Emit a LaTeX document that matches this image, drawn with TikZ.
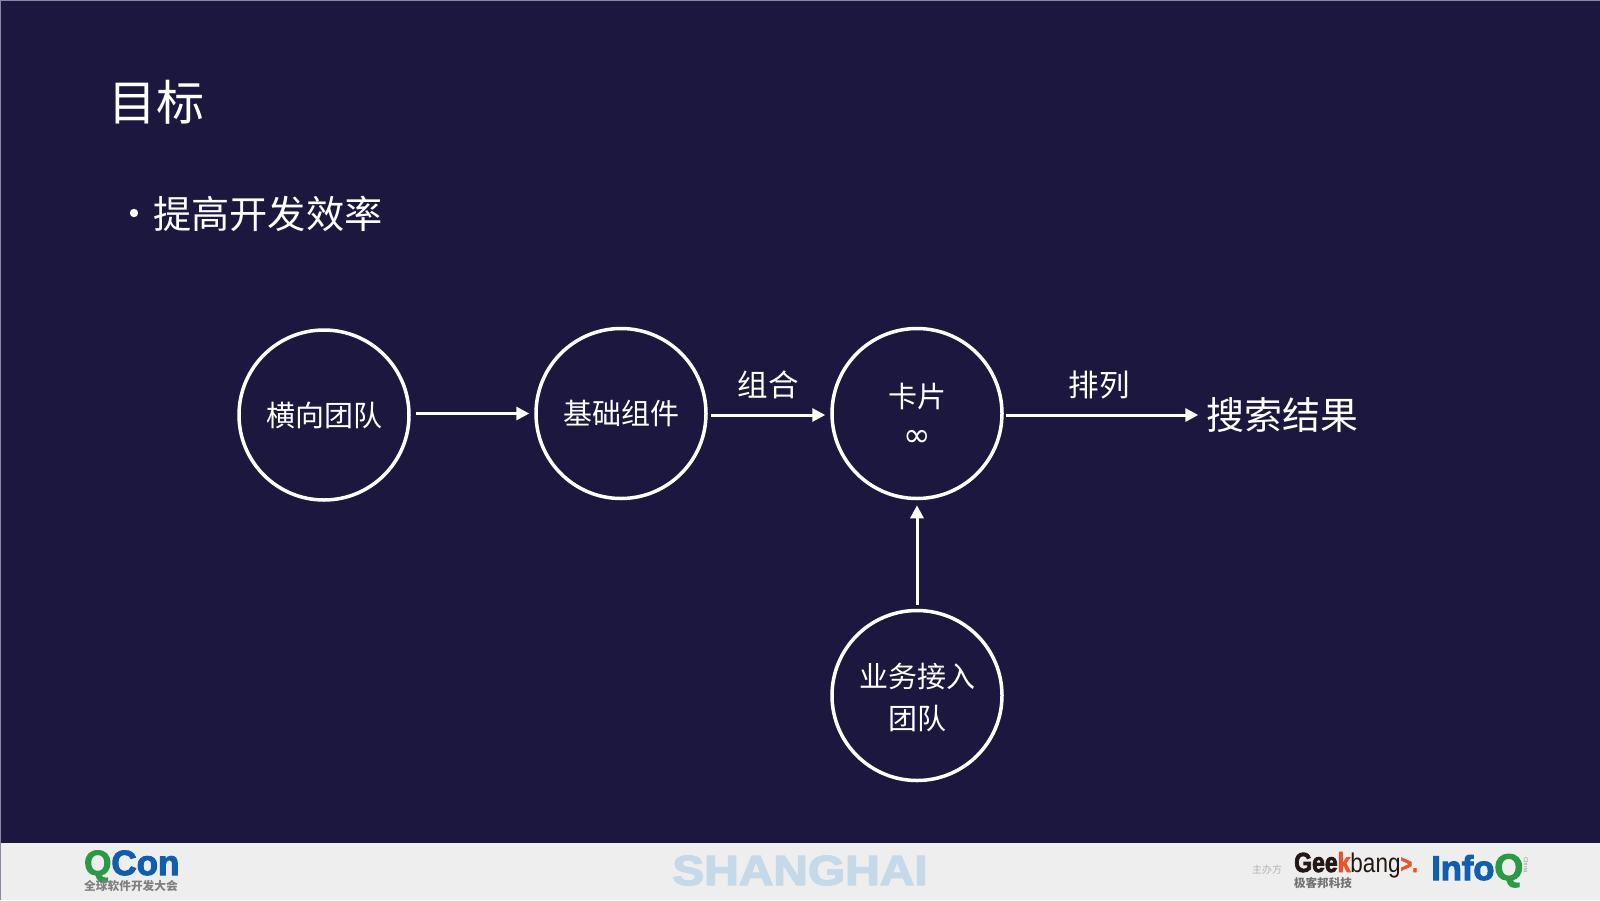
\documentclass[tikz,border=0pt]{standalone}
\usepackage{fontspec}
\setmainfont{Noto Sans CJK SC}
\newfontfamily\hvfont{Liberation Sans}[BoldFeatures={FakeBold=3}]
\newfontfamily\arialr{Liberation Sans}
\newfontfamily\dejavu{DejaVu Sans}
\usetikzlibrary{arrows.meta,calc}
\definecolor{slidebg}{HTML}{1C173E}
\definecolor{footbg}{HTML}{EEEEEE}
\definecolor{edgeline}{HTML}{8A88A0}
\definecolor{qgreen}{HTML}{2B9A47}
\definecolor{qblue}{HTML}{0F5FAE}
\definecolor{shang}{HTML}{C5D9E8}
\definecolor{gorange}{HTML}{E8562A}
\definecolor{gblack}{HTML}{231815}
\newcommand{\fs}[1]{\fontsize{#1}{#1}\selectfont}
\newcommand{\hv}{\hvfont\bfseries}
\tikzset{
  x=1pt,y=-1pt,
  ring/.style={circle,draw=white,line width=3.5pt,minimum size=170pt,inner sep=0pt,align=center,text=white,font=\fs{29},text width=120pt},
  arr/.style={draw=white,line width=3pt,-{Triangle[length=13pt,width=13pt]}},
  lbl/.style={text=white,inner sep=0pt,font=\fs{30.5}},
  foot/.style={inner sep=0pt,anchor=center},
  logo/.style={inner sep=0pt,anchor=base west},
}
\begin{document}
\begin{tikzpicture}
\useasboundingbox (0,0) rectangle (1600,900);
\fill[slidebg] (0,0) rectangle (1600,900);
\fill[footbg] (0,843) rectangle (1600,900);
\fill[edgeline] (0,0) rectangle (1600,1);
\fill[edgeline] (0,0) rectangle (1,900);
\node[text=white,inner sep=0pt,font=\fs{48}] (title) at (156.5,102.5) {目标};
\fill[white] (134,213) circle (4.2pt);
\node[text=white,inner sep=0pt,anchor=west,font=\fs{38.2}] (goal) at (153,213.5) {提高开发效率};

\node[ring] (c1) at (324,415) {\hspace*{1pt}横向团队};
\node[ring] (c2) at (621,413.5) {基础组件};
\node[ring] (c3) at (917,413.5) {};
\node[ring] (c4) at (917,695.5) {\rule{0pt}{28pt}业务接入\\[13pt]团队};
\node[text=white,inner sep=0pt,font=\fs{29}] (card) at (917,397) {卡片};
\node[text=white,inner sep=0pt,font=\dejavu\fs{33}] (inf) at (917,438) {∞};
\node[text=white,inner sep=0pt,font=\fs{38}] (res) at (1282.5,415) {搜索结果};
\node[lbl] (l1) at (768,385) {组合};
\node[lbl] (l2) at (1099,385) {排列};

\draw[arr,shorten <=5pt,shorten >=5pt] (c1.east) ++(0,-1.5) -- (c2.west);
\draw[arr,shorten <=3.5pt,shorten >=5pt] ([yshift=-1.5pt]c2.east) -- ([yshift=-1.5pt]c3.west);
\draw[arr,shorten <=2pt,shorten >=8pt] ([yshift=-1.5pt]c3.east) -- (res.west);
\draw[arr,shorten <=4pt,shorten >=5pt] (c4.north) -- (c3.south);

% footer
\node[logo,font=\hv\fs{35}] (qcon) at (84,875) {\textcolor{qgreen}{Q}\textcolor{qblue}{Con}};
\node[foot,text=black!50,font=\bfseries\fs{11.7}] (qc) at (131,886) {全球软件开发大会};
\node[inner sep=0pt,anchor=base,text=shang,font=\hv\fs{42},xscale=1.14] (sh) at (800,885) {SHANGHAI};
\node[foot,text=black!30,font=\fs{10}] (zb) at (1267,870) {主办方};
\node[logo,text=gblack,font=\hv\fs{23},yscale=1.2] (geek) at (1294,872) {Gee\rlap{\hspace{1.6pt}\rule{3.2pt}{16.5pt}}\textcolor{gorange}{k}{\arialr\mdseries\fs{22.5}bang}\textcolor{gorange}{\fs{20}>.}};
\node[foot,text=black!55,font=\bfseries\fs{11.6}] (gc) at (1323,883) {极客邦科技};
\node[logo,font=\hv\fs{34.5}] (info) at (1431,880) {\textcolor{qblue}{Info}\textcolor{qgreen}{\fs{37}Q}};
\node[foot,text=black!40,font=\arialr\fs{6},rotate=-90] (cn) at (1526,865) {China};
\end{tikzpicture}
\end{document}
